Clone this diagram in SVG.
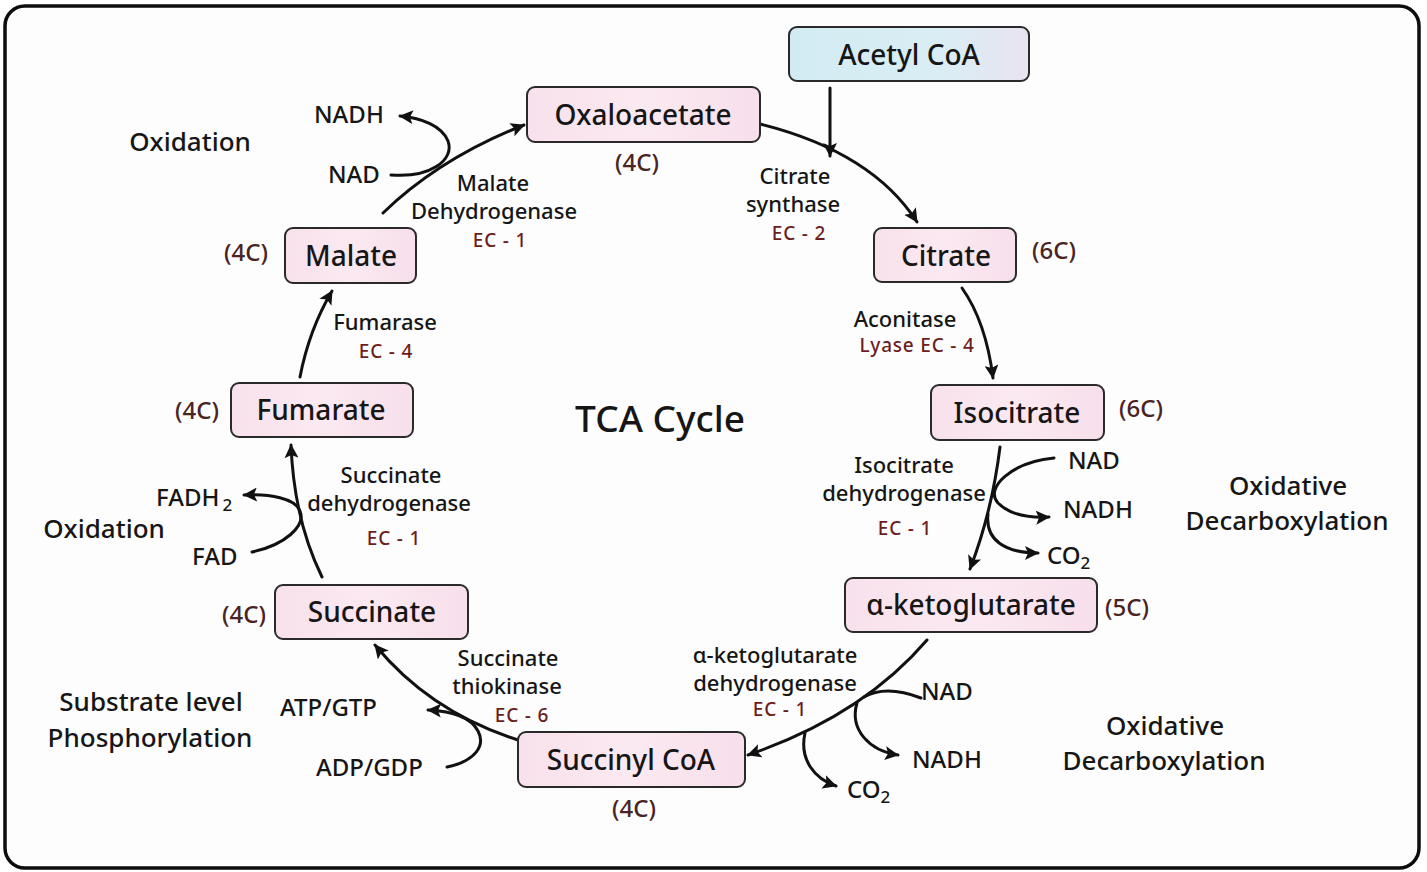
<svg xmlns="http://www.w3.org/2000/svg" width="1427" height="872" viewBox="0 0 1427 872">
  <style>
    text { font-family: "Noto Sans", "Liberation Sans", sans-serif; fill: #161616; font-weight: 500; }
    .node { fill: url(#pinkFill); stroke: #2a2a2a; stroke-width: 2; }
    .nodeText { font-size: 28px; text-anchor: middle; dominant-baseline: central; }
    .carbon { font-size: 24px; fill: #4a2424; text-anchor: middle; dominant-baseline: central; }
    .enzyme { font-size: 22px; text-anchor: middle; }
    .ec { font-size: 19px; fill: #6e1d1d; text-anchor: middle; letter-spacing: 0.8px; }
    .side { font-size: 26px; text-anchor: middle; }
    .cof { font-size: 24px; }
    .flow { fill: none; stroke: #111; stroke-width: 3; stroke-linecap: round; }
    .arr { marker-end: url(#head); }
  </style>
  <defs>
    <linearGradient id="pinkFill" x1="0" y1="0" x2="1" y2="0">
      <stop offset="0" stop-color="#f8e1ec"/>
      <stop offset="0.5" stop-color="#fbe9f1"/>
      <stop offset="1" stop-color="#f7dfeb"/>
    </linearGradient>
    <linearGradient id="blueFill" x1="0" y1="0" x2="1" y2="0">
      <stop offset="0" stop-color="#d2ebf2"/>
      <stop offset="0.6" stop-color="#d9eef4"/>
      <stop offset="1" stop-color="#e9e3f1"/>
    </linearGradient>
    <marker id="head" markerUnits="userSpaceOnUse" markerWidth="16" markerHeight="14" refX="13" refY="7" orient="auto">
      <path d="M0,0 L14,7 L0,14 L3,7 Z" fill="#111"/>
    </marker>
  </defs>

  <!-- page -->
  <rect x="0" y="0" width="1427" height="872" fill="#ffffff"/>
  <rect x="5" y="6" width="1414" height="862" rx="20" fill="#fdfdfd" stroke="#0d0d0d" stroke-width="3.5"/>

  <!-- connectors -->
  <g id="connectors">
    <!-- Malate -> Oxaloacetate -->
    <path class="flow arr" d="M383,213 Q440,158 524,125"/>
    <path class="flow arr" d="M391,175 C430,178 455,160 448,141 C442,126 422,118 400,116"/>
    <!-- Acetyl CoA input -->
    <path class="flow arr" d="M830,88 L830,156"/>
    <!-- Oxaloacetate -> Citrate -->
    <path class="flow arr" d="M760,124 Q872,152 917,222"/>
    <!-- Citrate -> Isocitrate -->
    <path class="flow arr" d="M962,288 Q986,322 993,378"/>
    <!-- Isocitrate -> alpha-ketoglutarate -->
    <path class="flow arr" d="M1000,447 Q992,512 970,569"/>
    <path class="flow arr" d="M1054,458 C1012,462 984,488 998,503 C1010,515 1030,518 1049,517"/>
    <path class="flow arr" d="M988,514 C985,540 1005,553 1038,553"/>
    <!-- alpha-ketoglutarate -> Succinyl CoA -->
    <path class="flow arr" d="M927,640 Q862,716 748,755"/>
    <path class="flow" d="M921,698 C900,690 880,688 864,697"/>
    <path class="flow arr" d="M857,703 C849,730 870,751 898,755"/>
    <path class="flow arr" d="M805,733 C799,760 815,779 836,786"/>
    <!-- Succinyl CoA -> Succinate -->
    <path class="flow arr" d="M518,740 Q430,712 375,645"/>
    <path class="flow arr" d="M447,767 C475,761 486,746 478,731 C470,716 450,711 428,710"/>
    <!-- Succinate -> Fumarate -->
    <path class="flow arr" d="M322,577 Q294,520 291,445"/>
    <path class="flow arr" d="M252,552 C285,545 306,526 300,511 C295,498 270,494 244,495"/>
    <!-- Fumarate -> Malate -->
    <path class="flow arr" d="M300,377 Q309,330 332,291"/>
  </g>

  <!-- metabolites -->
  <g id="acetylcoa">
    <rect x="789" y="27" width="240" height="54" rx="8" fill="url(#blueFill)" stroke="#2a2a2a" stroke-width="2"/>
    <text class="nodeText" x="909" y="54">Acetyl CoA</text>
  </g>
  <g id="oxaloacetate">
    <rect class="node" x="527" y="87" width="233" height="55" rx="8"/>
    <text class="nodeText" x="643" y="114">Oxaloacetate</text>
    <text class="carbon" x="637" y="161">(4C)</text>
  </g>
  <g id="citrate">
    <rect class="node" x="874" y="228" width="142" height="54" rx="8"/>
    <text class="nodeText" x="946" y="255">Citrate</text>
    <text class="carbon" x="1054" y="249">(6C)</text>
  </g>
  <g id="isocitrate">
    <rect class="node" x="931" y="385" width="173" height="55" rx="8"/>
    <text class="nodeText" x="1017" y="412">Isocitrate</text>
    <text class="carbon" x="1141" y="407">(6C)</text>
  </g>
  <g id="ketoglutarate">
    <rect class="node" x="845" y="578" width="252" height="54" rx="8"/>
    <text class="nodeText" x="971" y="604">α-ketoglutarate</text>
    <text class="carbon" x="1127" y="606">(5C)</text>
  </g>
  <g id="succinylcoa">
    <rect class="node" x="518" y="732" width="227" height="55" rx="8"/>
    <text class="nodeText" x="631" y="759">Succinyl CoA</text>
    <text class="carbon" x="634" y="807">(4C)</text>
  </g>
  <g id="succinate">
    <rect class="node" x="275" y="585" width="193" height="54" rx="8"/>
    <text class="nodeText" x="372" y="611">Succinate</text>
    <text class="carbon" x="244" y="613">(4C)</text>
  </g>
  <g id="fumarate">
    <rect class="node" x="231" y="383" width="182" height="54" rx="8"/>
    <text class="nodeText" x="321" y="409">Fumarate</text>
    <text class="carbon" x="197" y="409">(4C)</text>
  </g>
  <g id="malate">
    <rect class="node" x="285" y="228" width="131" height="55" rx="8"/>
    <text class="nodeText" x="351" y="255">Malate</text>
    <text class="carbon" x="246" y="251">(4C)</text>
  </g>

  <!-- enzymes -->
  <g id="enzymes">
    <text class="enzyme" x="493" y="191">Malate</text>
    <text class="enzyme" x="494" y="219">Dehydrogenase</text>
    <text class="ec" x="500" y="247">EC - 1</text>

    <text class="enzyme" x="795" y="184">Citrate</text>
    <text class="enzyme" x="793" y="212">synthase</text>
    <text class="ec" x="799" y="240">EC - 2</text>

    <text class="enzyme" x="905" y="327">Aconitase</text>
    <text class="ec" x="917" y="352">Lyase EC - 4</text>

    <text class="enzyme" x="904" y="473">Isocitrate</text>
    <text class="enzyme" x="904" y="501">dehydrogenase</text>
    <text class="ec" x="905" y="535">EC - 1</text>

    <text class="enzyme" x="775" y="663">α-ketoglutarate</text>
    <text class="enzyme" x="775" y="691">dehydrogenase</text>
    <text class="ec" x="780" y="716">EC - 1</text>

    <text class="enzyme" x="508" y="666">Succinate</text>
    <text class="enzyme" x="507" y="694">thiokinase</text>
    <text class="ec" x="522" y="722">EC - 6</text>

    <text class="enzyme" x="391" y="483">Succinate</text>
    <text class="enzyme" x="389" y="511">dehydrogenase</text>
    <text class="ec" x="394" y="545">EC - 1</text>

    <text class="enzyme" x="385" y="330">Fumarase</text>
    <text class="ec" x="386" y="358">EC - 4</text>
  </g>

  <!-- cofactors -->
  <g id="cofactors">
    <text class="cof" x="314" y="123">NADH</text>
    <text class="cof" x="328" y="183">NAD</text>
    <text class="cof" x="1068" y="469">NAD</text>
    <text class="cof" x="1063" y="518">NADH</text>
    <text class="cof" x="1047" y="564">CO<tspan font-size="17" dy="5">2</tspan></text>
    <text class="cof" x="921" y="700">NAD</text>
    <text class="cof" x="912" y="768">NADH</text>
    <text class="cof" x="847" y="798">CO<tspan font-size="17" dy="5">2</tspan></text>
    <text class="cof" x="280" y="716">ATP/GTP</text>
    <text class="cof" x="316" y="776">ADP/GDP</text>
    <text class="cof" x="156" y="506">FADH<tspan font-size="17" dx="3" dy="5">2</tspan></text>
    <text class="cof" x="192" y="565">FAD</text>
  </g>

  <!-- process labels -->
  <g id="labels">
    <text class="side" x="190" y="151">Oxidation</text>
    <text class="side" x="104" y="538">Oxidation</text>
    <text class="side" x="1288" y="495">Oxidative</text>
    <text class="side" x="1287" y="530">Decarboxylation</text>
    <text class="side" x="1165" y="735">Oxidative</text>
    <text class="side" x="1164" y="770">Decarboxylation</text>
    <text class="side" x="151" y="711">Substrate level</text>
    <text class="side" x="150" y="747">Phosphorylation</text>
    <text x="660" y="432" font-size="37" text-anchor="middle">TCA Cycle</text>
  </g>
</svg>
